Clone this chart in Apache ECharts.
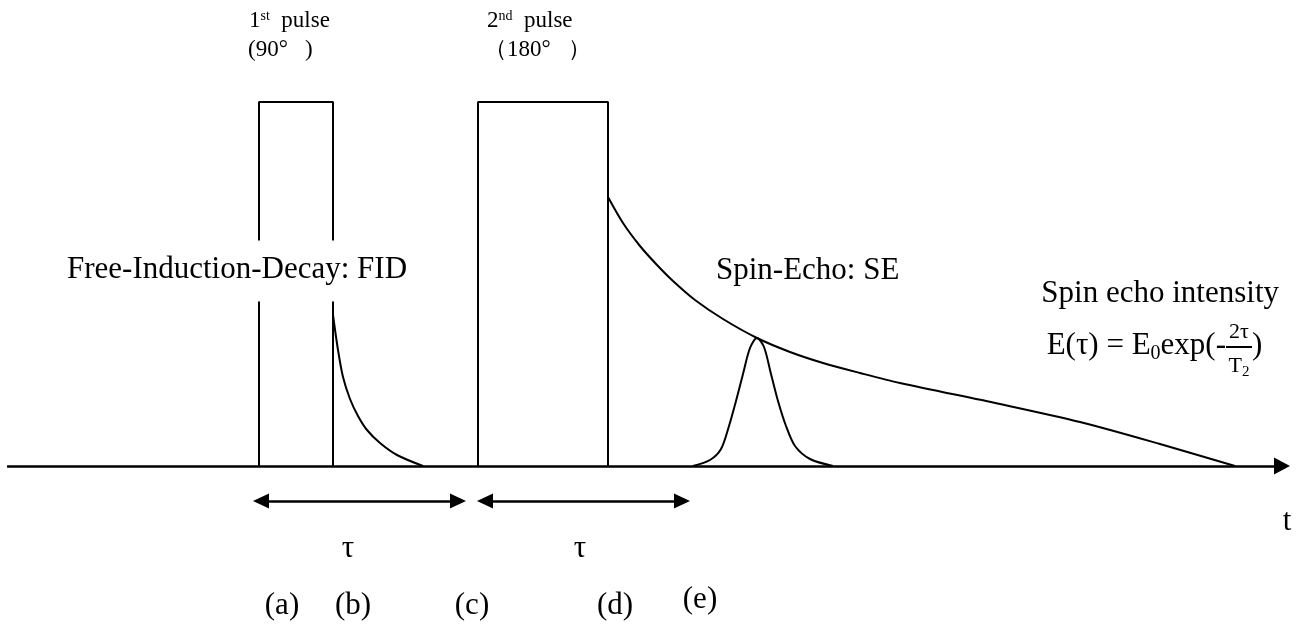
<!DOCTYPE html>
<html>
<head>
<meta charset="utf-8">
<script src="https://cdn.jsdelivr.net/npm/echarts@6/dist/echarts.min.js"></script>
<style>html,body{margin:0;padding:0;background:#fff}#c{width:1309px;height:626px}</style>
</head>
<body>
<div id="c"></div>
<script>
// ---- data (x: time units, y: signal amplitude; baseline = 0) ----
const pulse1 = [[259,0],[259,364],[333,364],[333,0]];
const pulse2 = [[478,0],[478,364],[608,364],[608,0]];
const fid = [[333,151],[338,116],[343,89],[350,67],[358,50],[367,36],[380,23],[397,11],[423,0]];
const decay = [[608,269],[623,243],[640,220],[657,201],[673,185],[695,166],[723,147],[757,128],[790,114],[823,103],[860,93],[900,83],[1000,62],[1080,44],[1160,22],[1235,0]];
const echo = [[693,0],[710,6],[721,17],[729,40],[736,65],[743,92],[750,118],[757,128],[764,119],[771,92],[778,65],[786,40],[795,20],[810,7],[833,0]];
const timeAxis = [[7,0],[1290,0]];
const tauSpans = [[[253,-35],[466,-35]],[[477,-35],[690,-35]]];
const fracBar = [[1226,119],[1252,119]];

const SERIF = "'Liberation Serif','Times New Roman',serif";

// annotations: text, anchor point, alignment
const notes = [
  {t:'{a|1}{s|st}{a|  pulse}', p:[249,445], al:'left'},
  {t:'{a|(90°\u2002 )}', p:[248,416], al:'left'},
  {t:'{a|2}{s|nd}{a|  pulse}', p:[487,445], al:'left'},
  {t:'{a|（180°\u2002 ）}', p:[484,416], al:'left'},
  {t:'{b|Free-Induction-Decay: FID}', p:[67,195], al:'left', bg:true},
  {t:'{b|Spin-Echo: SE}', p:[716,195], al:'left'},
  {t:'{b|Spin echo intensity}', p:[1279,172], al:'right'},
  {t:'{b|E(τ) = E}{sub|0}{b|exp(-}', p:[1226,120], al:'right'},
  {t:'{f|2τ}', p:[1239,134], al:'center'},
  {t:'{f|T}{fs|2}', p:[1239,100], al:'center'},
  {t:'{b|)}', p:[1252,120], al:'left'},
  {t:'{b|t}', p:[1287,-56], al:'center'},
  {t:'{b|τ}', p:[348,-83], al:'center'},
  {t:'{b|τ}', p:[580,-83], al:'center'},
  {t:'{b|(a)}', p:[282,-140], al:'center'},
  {t:'{b|(b)}', p:[353,-140], al:'center'},
  {t:'{b|(c)}', p:[472,-140], al:'center'},
  {t:'{b|(d)}', p:[615,-140], al:'center'},
  {t:'{b|(e)}', p:[700,-134], al:'center'}
];

const txt = {color:'#000', textBorderWidth:0, textShadowBlur:0};
const rich = {
  a:Object.assign({fontFamily:SERIF,fontSize:23}, txt),
  s:Object.assign({fontFamily:SERIF,fontSize:14,verticalAlign:'top'}, txt),
  b:Object.assign({fontFamily:SERIF,fontSize:31}, txt),
  sub:Object.assign({fontFamily:SERIF,fontSize:20,verticalAlign:'bottom',padding:[0,0,-2,0]}, txt),
  f:Object.assign({fontFamily:SERIF,fontSize:22}, txt),
  fs:Object.assign({fontFamily:SERIF,fontSize:15,verticalAlign:'bottom',padding:[0,0,-3,0]}, txt)
};

const ARW = 16;
function inset(a, b, d){
  const dx=b[0]-a[0], dy=b[1]-a[1], L=Math.hypot(dx,dy);
  return [[a[0]+dx/L*d,a[1]+dy/L*d],[b[0]-dx/L*d,b[1]-dy/L*d]];
}
const axisEnd = [timeAxis[0], [timeAxis[1][0]-ARW/2, timeAxis[1][1]]];
const spanLines = tauSpans.map(s => inset(s[0], s[1], ARW/2));

const lineBase = {type:'line', showSymbol:false, symbol:'none', silent:true, animation:false,
  lineStyle:{color:'#000', width:2}};

const chart = echarts.init(document.getElementById('c'), null, {renderer:'canvas'});
chart.setOption({
  backgroundColor:'#fff',
  animation:false,
  grid:{left:0,right:0,top:0,bottom:0,containLabel:false},
  xAxis:{type:'value',min:0,max:1309,show:false},
  yAxis:{type:'value',min:-160,max:466,show:false},
  series:[
    Object.assign({}, lineBase, {name:'pulse1', data:pulse1}),
    Object.assign({}, lineBase, {name:'pulse2', data:pulse2}),
    Object.assign({}, lineBase, {name:'fid', data:fid, smooth:0.3}),
    Object.assign({}, lineBase, {name:'decay', data:decay, smooth:0.3}),
    Object.assign({}, lineBase, {name:'echo', data:echo, smooth:0.3}),
    Object.assign({}, lineBase, {name:'axes', data:[],
      markLine:{silent:true, animation:false, label:{show:false}, emphasis:{disabled:true},
        data:[
          [{coord:axisEnd[0], symbol:'none', lineStyle:{color:'#000',width:2.5,type:'solid'}},
           {coord:axisEnd[1], symbol:'triangle', symbolSize:[17,ARW]}],
          [{coord:spanLines[0][0], symbol:'triangle', symbolSize:[15,ARW], lineStyle:{color:'#000',width:2.5,type:'solid'}},
           {coord:spanLines[0][1], symbol:'triangle', symbolSize:[15,ARW]}],
          [{coord:spanLines[1][0], symbol:'triangle', symbolSize:[15,ARW], lineStyle:{color:'#000',width:2.5,type:'solid'}},
           {coord:spanLines[1][1], symbol:'triangle', symbolSize:[15,ARW]}],
          [{coord:fracBar[0], symbol:'none', lineStyle:{color:'#000',width:2,type:'solid'}},
           {coord:fracBar[1], symbol:'none'}]
        ]}}),
    {type:'scatter', name:'notes', silent:true, animation:false, symbolSize:0, z:5,
      itemStyle:{color:'transparent', opacity:1},
      data: notes.map(n => ({value:n.p, label:Object.assign({show:true, position:'inside', formatter:n.t,
        align:n.al, verticalAlign:'middle', rich:rich, color:'#000', textBorderWidth:0},
        n.bg ? {backgroundColor:'#fff', padding:[14,0,16,0]} : {})}))}
  ]
});
</script>
</body>
</html>
